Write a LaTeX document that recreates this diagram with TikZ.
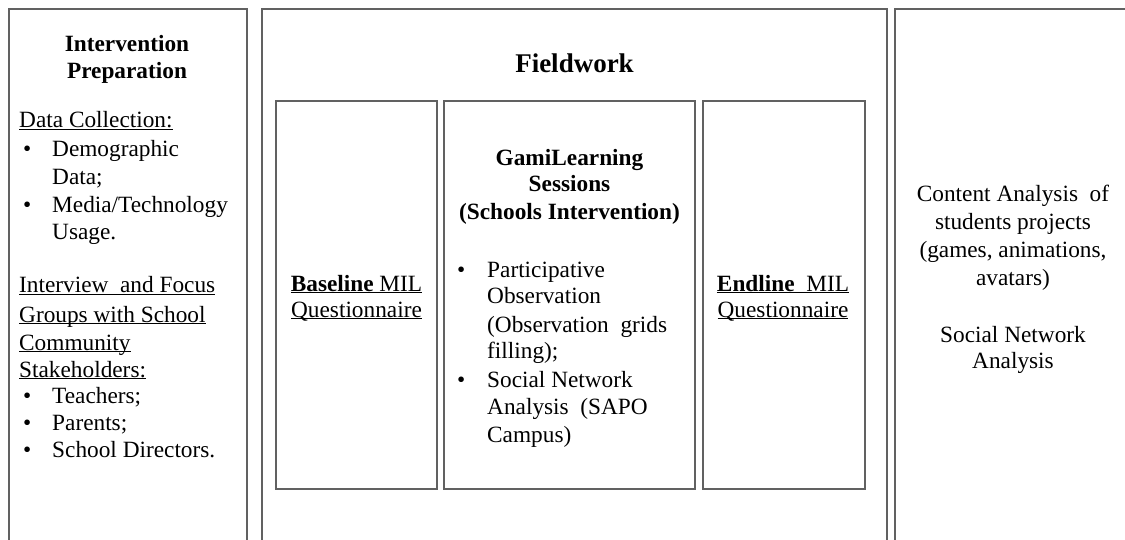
\documentclass[tikz,border=0pt]{standalone}
\usepackage{fontspec}
\setmainfont{Liberation Serif}
\newfontfamily\tnr{Liberation Serif}
\newcommand\ulx[1]{\underline{\smash{#1}}}
\begin{document}
\begin{tikzpicture}[x=1pt,y=-1pt,
  frame/.style={draw=black!62,line width=1.5pt},
  txt/.style={inner sep=0pt,anchor=base west,font=\tnr\fontsize{23.3}{27}\selectfont},
  ctxt/.style={txt,anchor=base},
  btxt/.style={ctxt,font=\tnr\fontsize{23.3}{27}\selectfont\bfseries},
  ttxt/.style={ctxt,font=\tnr\fontsize{27}{31}\selectfont\bfseries}]
\useasboundingbox (0,0) rectangle (1125,540);
\clip (0,0) rectangle (1125,540);
% outer columns
\draw[frame] (9,9) rectangle (247,570);
\draw[frame] (262,9) rectangle (887,570);
\draw[frame] (895,9) rectangle (1140,570);
% inner boxes
\draw[frame] (276,101) rectangle (437,489);
\draw[frame] (444,101) rectangle (695,489);
\draw[frame] (703,101) rectangle (865,489);

% column 1
\node[btxt] (t1a) at (127,52) {Intervention};
\node[btxt] (t1b) at (127,79) {Preparation};
\node[txt] (c1) at (19,128) {\ulx{Data Collection:}};
\node[txt] (b1) at (23,157) {•};
\node[txt] (c2) at (52,157) {Demographic};
\node[txt] (c3) at (52,185) {Data;};
\node[txt] (b2) at (23,213) {•};
\node[txt] (c4) at (52,213) {Media/Technology};
\node[txt] (c5) at (52,240) {Usage.};
\node[txt] (c6) at (19,293) {\ulx{Interview\ \ and Focus}};
\node[txt] (c7) at (19,322) {\ulx{Groups with School}};
\node[txt] (c8) at (19,350) {\ulx{Community}};
\node[txt] (c9) at (19,377) {\ulx{Stakeholders:}};
\node[txt] (b3) at (23,403) {•};
\node[txt] (c10) at (52,403) {Teachers;};
\node[txt] (b4) at (23,430) {•};
\node[txt] (c11) at (52,430) {Parents;};
\node[txt] (b5) at (23,457) {•};
\node[txt] (c12) at (52,457) {School Directors.};

% fieldwork
\node[ttxt] (fw) at (574.5,73) {Fieldwork};
\node[ctxt] (bl1) at (356.5,291) {\ulx{\textbf{Baseline} MIL}};
\node[ctxt] (bl2) at (356.5,317) {\ulx{Questionnaire}};
\node[btxt] (g1) at (569.5,166) {GamiLearning};
\node[btxt] (g2) at (569.5,192) {Sessions};
\node[btxt] (g3) at (569.5,220) {(Schools Intervention)};
\node[txt] (gb1) at (457,277) {•};
\node[txt] (g4) at (487,277) {Participative};
\node[txt] (g5) at (487,304) {Observation};
\node[txt] (g6) at (487,332) {(Observation\ \ grids};
\node[txt] (g7) at (487,358) {filling);};
\node[txt] (gb2) at (457,387) {•};
\node[txt] (g8) at (487,387) {Social Network};
\node[txt] (g9) at (487,414) {Analysis\ \ (SAPO};
\node[txt] (g10) at (487,442) {Campus)};
\node[ctxt] (el1) at (783,291) {\ulx{\textbf{Endline}\ \ MIL}};
\node[ctxt] (el2) at (783,317) {\ulx{Questionnaire}};

% right column
\node[ctxt] (r1) at (1013,202) {Content Analysis\ \ of};
\node[ctxt] (r2) at (1013,230) {students projects};
\node[ctxt] (r3) at (1013,258) {(games, animations,};
\node[ctxt] (r4) at (1013,286) {avatars)};
\node[ctxt] (r5) at (1013,342) {Social Network};
\node[ctxt] (r6) at (1013,368) {Analysis};
\end{tikzpicture}
\end{document}
